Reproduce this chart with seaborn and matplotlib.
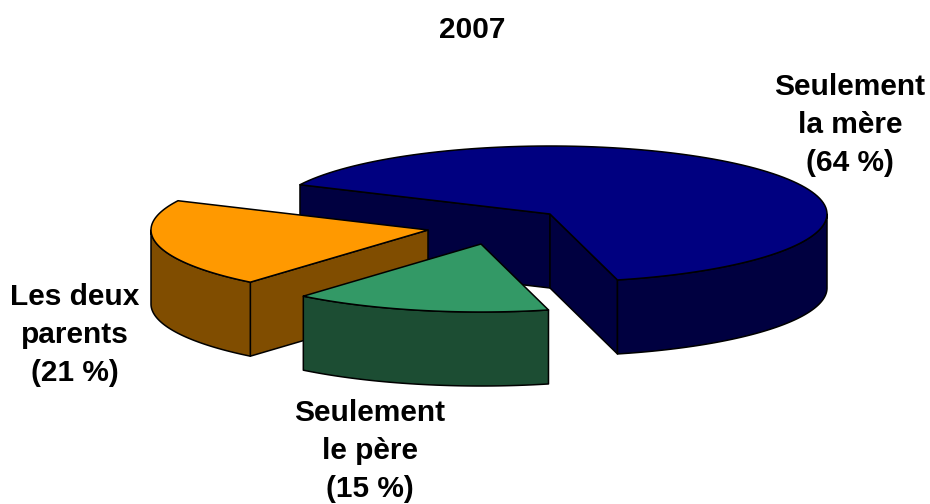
import numpy as np
import matplotlib
matplotlib.use("Agg")
import matplotlib.pyplot as plt
from matplotlib.patches import Polygon
import seaborn as sns

title = "2007"
categories = ["Seulement\nla mère\n(64 %)", "Seulement\nle père\n(15 %)", "Les deux\nparents\n(21 %)"]
shares = [64, 15, 21]
top_colors = ["#000080", "#339966", "#FF9900"]
side_colors = ["#000040", "#1C4D33", "#804D00"]
centers = [(550, 214), (481, 244), (428, 230)]
label_xy = [(850, 125), (370, 451), (75, 335)]

sns.set_theme(style="white")
plt.rcParams["font.family"] = ["Liberation Sans", "DejaVu Sans"]

RX, RY, DEPTH = 277, 68, 74
START = -64.5

fig, ax = plt.subplots(figsize=(9.3, 5.04), dpi=100)
ax.set_position([0, 0, 1, 1])
ax.set_xlim(0, 930)
ax.set_ylim(504, 0)
ax.axis("off")


def rim(c, a0, a1):
    t = np.radians(np.linspace(a0, a1, 120))
    return np.column_stack([c[0] + RX * np.sin(t), c[1] - RY * np.cos(t)])


def face(pts, color, z):
    ax.add_patch(Polygon(pts, closed=True, facecolor=color, edgecolor="black", lw=1.1, zorder=z, joinstyle="round"))


def wall(pts, color, z):
    down = pts[::-1] + np.array([0, DEPTH])
    face(np.vstack([pts, down]), color, z)


edges = START + np.cumsum([0] + shares) * 3.6
draw_z = [1, 3, 2]
for i, (c, z) in enumerate(zip(centers, draw_z)):
    a0, a1 = edges[i], edges[i + 1]
    c = np.array(c, float)
    base = z * 10
    # cut faces: visible when the outward normal points to the viewer
    for a in (a0, a1):
        p = rim(c, a, a)[0]
        sign = -1 if a == a0 else 1
        if -np.cos(np.radians(a + sign * 90)) > 0:
            wall(np.array([c, p]), side_colors[i], base)
    # outer wall: only the front half of the rim
    lo, hi = max(a0, 90), min(a1, 270)
    if lo < hi:
        wall(rim(c, lo, hi), side_colors[i], base + 1)
    # top face
    face(np.vstack([c, rim(c, a0, a1)]), top_colors[i], base + 2)
    ax.text(*label_xy[i], categories[i], ha="center", va="center", fontsize=21.5, fontweight="bold",
            color="black", linespacing=1.46, zorder=50)

ax.text(472, 30, title, ha="center", va="center", fontsize=21.5, fontweight="bold", color="black")

fig.savefig("out.png", dpi=100, facecolor="white")
